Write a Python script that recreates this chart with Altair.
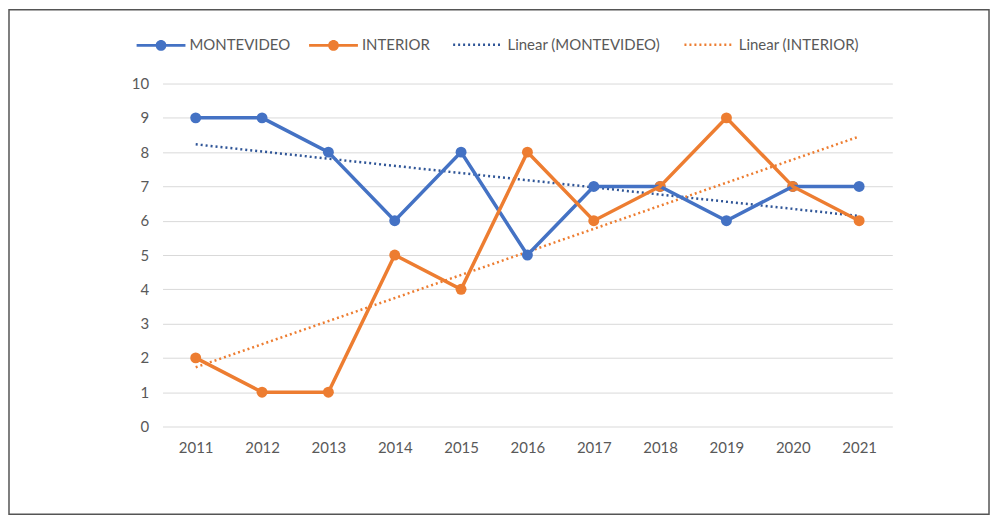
import altair as alt
import pandas as pd

years = [2011, 2012, 2013, 2014, 2015, 2016, 2017, 2018, 2019, 2020, 2021]
montevideo = [9, 9, 8, 6, 8, 5, 7, 7, 6, 7, 7]
interior = [2, 1, 1, 5, 4, 8, 6, 7, 9, 7, 6]
series_names = ["MONTEVIDEO", "INTERIOR"]
series_colors = ["#4472C4", "#ED7D31"]
trend_names = ["Linear (MONTEVIDEO)", "Linear (INTERIOR)"]
trend_colors = ["#2F5597", "#ED7D31"]
y_ticks = list(range(0, 11))

rows = []
for name, vals in zip(series_names, [montevideo, interior]):
    for yr, v in zip(years, vals):
        rows.append({"Series": name, "Year": yr, "Value": v})
df = pd.DataFrame(rows)

FONT = "Lato"
TXT = "#595959"

x_enc = alt.X("Year:Q", scale=alt.Scale(domain=[2010.5, 2021.5], nice=False, zero=False),
              axis=alt.Axis(values=years, format="d", title=None, grid=False, domain=False,
                            ticks=False, labelPadding=14, labelFontSize=15, labelColor=TXT,
                            labelFont=FONT))
y_enc = alt.Y("Value:Q", scale=alt.Scale(domain=[0, 10], nice=False),
              axis=alt.Axis(values=y_ticks, title=None, domain=False, ticks=False,
                            gridColor="#D9D9D9", gridWidth=1, labelPadding=14,
                            labelFontSize=15, labelColor=TXT, labelFont=FONT))

sym_path = ("M-1,-0.06 L1,-0.06 L1,0.06 L-1,0.06 Z "
            "M-0.22,0 A0.22,0.22 0 1,1 0.22,0 A0.22,0.22 0 1,1 -0.22,0 Z")

color_main = alt.Color("Series:N",
                       scale=alt.Scale(domain=series_names, range=series_colors),
                       legend=alt.Legend(title=None, orient="none", direction="horizontal",
                                         legendX=-26, legendY=-63, symbolType=sym_path,
                                         symbolSize=2400, symbolStrokeWidth=0,
                                         labelFontSize=15, labelColor=TXT, labelFont=FONT,
                                         labelOffset=4, columnPadding=18))

base = alt.Chart(df)
pts = base.mark_point(filled=True, size=120, opacity=1).encode(x=x_enc, y=y_enc, color=color_main)
lines = base.mark_line(strokeWidth=3.5).encode(x=x_enc, y=y_enc, color=color_main)
main = alt.layer(pts, lines)

trend = base.transform_regression(
    "Year", "Value", groupby=["Series"]
).transform_calculate(
    Trend="'Linear (' + datum.Series + ')'"
).mark_line(strokeWidth=2.5, strokeDash=[2, 3]).encode(
    x=x_enc, y=y_enc,
    color=alt.Color("Trend:N", scale=alt.Scale(domain=trend_names, range=trend_colors),
                    legend=alt.Legend(title=None, orient="none", direction="horizontal",
                                      legendX=290, legendY=-65, symbolType="stroke",
                                      symbolDash=[2, 3], symbolStrokeWidth=2.5,
                                      symbolSize=2400, labelFontSize=15, labelColor=TXT,
                                      labelFont=FONT, labelOffset=4, columnPadding=18))
)

frame = alt.Chart(alt.Data(values=[{"a": 1}])).mark_rect(
    fill="transparent", stroke="#555555", strokeWidth=1.5
).encode(x=alt.value(-154), x2=alt.value(829), y=alt.value(-74), y2=alt.value(432))

chart = alt.layer(frame, trend, main).resolve_scale(color="independent").properties(
    width=732, height=344,
    autosize=alt.AutoSizeParams(type="none"),
    padding={"left": 155, "top": 75, "right": 100, "bottom": 88},
).configure_view(strokeWidth=0)

chart.save("out.html", embed_options={"renderer": "svg", "actions": False})
